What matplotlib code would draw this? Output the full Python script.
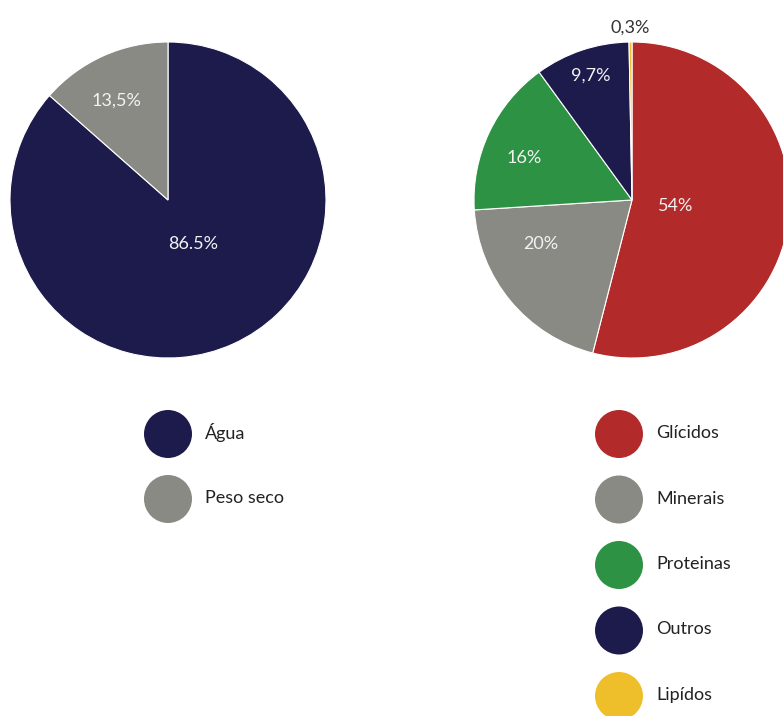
import numpy as np
import matplotlib
matplotlib.use("Agg")
from matplotlib import pyplot as plt
from matplotlib.patches import Circle

plt.rcParams['font.family'] = ['Lato', 'DejaVu Sans']

# left pie: water vs dry weight
agua_labels = ['Água', 'Peso seco']
agua_values = [86.5, 13.5]
agua_texts = ['86.5%', '13,5%']
agua_colors = ['#1c1b4b', '#8a8a84']

# right pie: composition of dry weight
seco_labels = ['Glícidos', 'Minerais', 'Proteinas', 'Outros', 'Lipídos']
seco_values = [54, 20, 16, 9.7, 0.3]
seco_texts = ['54%', '20%', '16%', '9,7%', '0,3%']
seco_colors = ['#b22a29', '#8a8a84', '#2e9245', '#1c1b4b', '#efbf2b']

W, H = 783, 716
fig = plt.figure(figsize=(W / 100, H / 100), dpi=100)
ax = fig.add_axes([0, 0, 1, 1])

R = 158


def draw_pie(values, colors, texts, cx, cy, dists, shifts, txt_colors):
    wedges, _ = ax.pie(values, colors=colors, startangle=90, counterclock=False,
                       center=(cx, cy), radius=R, frame=True,
                       wedgeprops=dict(edgecolor='white', linewidth=0.8))
    for w, t, d, s, c in zip(wedges, texts, dists, shifts, txt_colors):
        a = np.deg2rad((w.theta1 + w.theta2) / 2 + s)
        ax.text(cx + d * R * np.cos(a), cy + d * R * np.sin(a), t,
                ha='center', va='center', fontsize=13, color=c)


draw_pie(agua_values, agua_colors, agua_texts, 168, H - 200,
         [0.32, 0.71], [5, 3], ['#f2f2f2'] * 2)
draw_pie(seco_values, seco_colors, seco_texts, 632, H - 200,
         [0.28, 0.64, 0.73, 0.83, 1.09], [0, -14, 4, 0, 0],
         ['#f2f2f2'] * 4 + ['#333333'])
ax.set_xlim(0, W)
ax.set_ylim(0, H)
ax.set_aspect('equal')
ax.axis('off')


def draw_legend(labels, colors, x, y0, step):
    for i, (lab, col) in enumerate(zip(labels, colors)):
        y = y0 - i * step
        ax.add_patch(Circle((x, y), 24, color=col, ec='none'))
        ax.text(x + 37, y + 1, lab, ha='left', va='center', fontsize=13,
                color='#222222')


draw_legend(agua_labels, agua_colors, 168, H - 434, 65)
draw_legend(seco_labels, seco_colors, 619, H - 434, 65.5)

fig.savefig('out.png', dpi=100, facecolor='white')
